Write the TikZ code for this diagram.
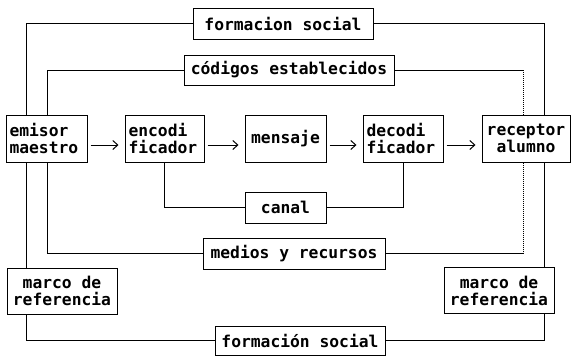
\documentclass[tikz,border=0pt]{standalone}
\usepackage{fontspec}
\setmonofont{DejaVu Sans Mono}
\usetikzlibrary{arrows.meta}
\tikzset{
  bx/.style={draw, line width=1pt, rectangle, inner sep=0pt,
    font=\ttfamily\bfseries\fontsize{16.3}{17}\selectfont},
  lbx/.style={bx, align=left},
  cbx/.style={bx, align=center},
  con/.style={line width=1pt},
  dcon/.style={line width=1pt, densely dotted},
  arr/.style={line width=1pt, -{Straight Barb[length=5pt,width=9pt,line width=1pt]}, shorten <=3pt, shorten >=6pt}
}
\begin{document}
\begin{tikzpicture}[x=1pt,y=-1pt]
\useasboundingbox (0,0) rectangle (571,356);
% boxes
\node[cbx, minimum width=180pt, minimum height=31pt] (fs1) at (283,23.5) {formacion social};
\node[cbx, minimum width=210pt, minimum height=30pt] (cod) at (289,70) {códigos establecidos};
\node[lbx, minimum width=81pt, minimum height=47pt, text width=74pt] (emi) at (46.5,138.5) {emisor\\maestro};
\node[lbx, minimum width=79pt, minimum height=47pt, text width=72pt] (enc) at (164.5,138.5) {encodi\\ficador};
\node[cbx, minimum width=81pt, minimum height=47pt] (men) at (285.5,138.5) {mensaje};
\node[lbx, minimum width=80pt, minimum height=47pt, text width=73pt] (dec) at (403,138.5) {decodi\\ficador};
\node[cbx, minimum width=88pt, minimum height=47pt] (rec) at (526,138.5) {receptor\\alumno};
\node[cbx, minimum width=81pt, minimum height=31pt] (can) at (285.5,207.5) {canal};
\node[cbx, minimum width=182pt, minimum height=31pt] (med) at (294,253.5) {medios y recursos};
\node[cbx, minimum width=110pt, minimum height=46pt] (mL) at (62,291) {marco de\\referencia};
\node[cbx, minimum width=110pt, minimum height=46pt] (mR) at (499,290.5) {marco de\\referencia};
\node[cbx, minimum width=170pt, minimum height=29pt] (fs2) at (300,340.5) {formación social};
% helper coordinates
\coordinate (xL1) at (26.5,0);
\coordinate (xL2) at (47,0);
\coordinate (xR1) at (544,0);
\coordinate (xR2) at (523,0);
\coordinate (ay) at (0,145);
% top connectors
\draw[con] (fs1.west) -| (emi.north -| xL1);
\draw[con] (cod.west) -| (emi.north -| xL2);
\draw[con] (fs1.east) -| (rec.north -| xR1);
\draw[con] (cod.east) -- (cod.east -| xR2);
\draw[dcon] (cod.east -| xR2) -- (rec.north -| xR2);
% arrows
\draw[arr] (emi.east |- ay) -- (enc.west |- ay);
\draw[arr] (enc.east |- ay) -- (men.west |- ay);
\draw[arr] (men.east |- ay) -- (dec.west |- ay);
\draw[arr] (dec.east |- ay) -- (rec.west |- ay);
% canal
\draw[con] (enc.south) |- (can.west);
\draw[con] (dec.south) |- (can.east);
% medios
\draw[con] (emi.south -| xL2) |- (med.west);
\draw[dcon] (rec.south -| xR2) -- (med.east -| xR2);
\draw[con] (med.east -| xR2) -- (med.east);
% marco
\draw[con] (emi.south -| xL1) -- (mL.north -| xL1);
\draw[con] (rec.south -| xR1) -- (mR.north -| xR1);
\draw[con] (mL.south -| xL1) |- (fs2.west);
\draw[con] (mR.south -| xR1) |- (fs2.east);
\end{tikzpicture}
\end{document}
